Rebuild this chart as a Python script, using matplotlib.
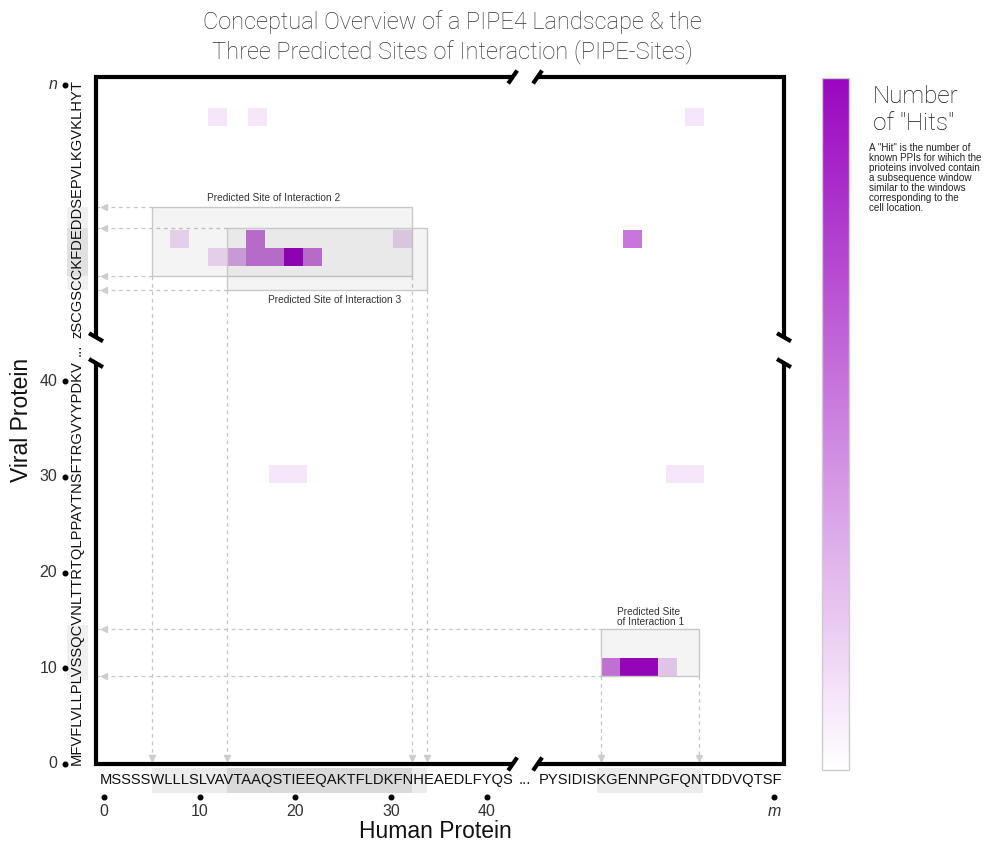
import numpy as np
import matplotlib.pyplot as plt
from matplotlib.colors import LinearSegmentedColormap, Normalize
from matplotlib.cm import ScalarMappable
from matplotlib.patches import Rectangle

plt.rcParams['font.family'] = ['Liberation Sans', 'DejaVu Sans']

W, H = 985, 843

# sequences shown along the axes
human_left = "MSSSSWLLLSLVAVTAAQSTIEEQAKTFLDKFNHEAEDLFYQS"
human_right = "PYSIDISKGENNPGFQNTDDVQTSF"
viral_bottom = "MFVFLVLLPLVSSQCVNLTTRTQLPPAYTNSFTRGVYYPDKV"
viral_top = "zSCGSCCKFDEDDSEPVLKGVKLHYT"

x_ticks = [0, 10, 20, 30, 40]
y_ticks = [0, 10, 20, 30, 40]
x_last = 70   # 'm'
y_last = 71   # 'n'

# PIPE landscape cells (lower-left corner, residue units) and their hit counts
cell_x = [10.9, 15.05, 60.7,
          6.9, 14.8, 30.2, 54.2,
          10.9, 12.85, 14.8, 16.8, 18.8, 20.8,
          17.2, 19.2, 58.7, 60.7,
          51.9, 53.9, 55.9, 57.9]
cell_y = [66.7] * 3 + [53.9] * 4 + [52.0] * 6 + [29.4] * 4 + [9.2] * 4
hits = [1, 1, 1,
        1.6, 5.5, 1.6, 5.5,
        1.6, 3.5, 5.5, 5.5, 10, 5.5,
        1, 1, 1, 1,
        5.5, 10, 10, 2]
max_hits = 10

# predicted sites of interaction
site_names = ['Predicted Site\nof Interaction 1',
              'Predicted Site of Interaction 2',
              'Predicted Site of Interaction 3']
site_x0 = [51.9, 5.0, 12.85]
site_x1 = [62.2, 32.2, 33.75]
site_y0 = [9.2, 51.0, 49.5]
site_y1 = [14.1, 58.2, 56.0]

x_break = (42.7, 45.3)
y_break = (41.9, 44.6)

cmap = LinearSegmentedColormap.from_list('hits', ['#ffffff', '#9a06c0'])
norm = Normalize(0, max_hits)

fig = plt.figure(figsize=(W / 100, H / 100), dpi=100)
ax = fig.add_axes([96 / W, (H - 764) / H, 688 / W, 687 / H])
ax.set_xlim(-0.84, 71.05)
ax.set_ylim(0, 71.8)
ax.axis('off')
x0, x1 = ax.get_xlim()
y0, y1 = ax.get_ylim()

# cells
ax.bar(cell_x, 1.9, width=2, bottom=cell_y, align='edge',
       color=cmap(norm(np.array(hits))), lw=0, zorder=2)

# site boxes, guide lines, axis highlights
guide = dict(color='#c4c4c4', lw=0.9, ls=(0, (3, 3)), zorder=1, clip_on=False)
arrow = dict(color='#cdcdcd', ms=5, zorder=4, clip_on=False, ls='none')
for i in range(len(site_names)):
    u0, u1, v0, v1 = site_x0[i], site_x1[i], site_y0[i], site_y1[i]
    ax.add_patch(Rectangle((u0, v0), u1 - u0, v1 - v0, facecolor=(0, 0, 0, 0.045),
                           edgecolor='#c8c8c8', lw=1, zorder=3))
    for v in (v0, v1):
        ax.plot([x0, u0], [v, v], **guide)
        ax.plot([0.0], [v], marker='<', **arrow)
    for u in (u0, u1):
        ax.plot([u, u], [v0, y0], **guide)
        ax.plot([u], [0.6], marker='v', **arrow)
    pad = 0.4 if i == 0 else 0.0
    ax.add_patch(Rectangle((u0 - pad, -3.0), u1 - u0 + 2 * pad, 2.6,
                           facecolor=(0, 0, 0, 0.075), lw=0, clip_on=False, zorder=0))
    ax.add_patch(Rectangle((-3.87, v0 - pad), 2.2, v1 - v0 + 2 * pad,
                           facecolor=(0, 0, 0, 0.06), lw=0, clip_on=False, zorder=0))

lab = dict(fontsize=7.3, color='#333333', zorder=6)
ax.text(site_x0[0] + 1.7, site_y1[0] + 0.2, site_names[0], ha='left', va='bottom',
        linespacing=1.0, **lab)
ax.text((site_x0[1] + site_x1[1]) / 2 - 0.9, site_y1[1] + 0.4, site_names[1],
        ha='center', va='bottom', **lab)
ax.text((site_x0[2] + site_x1[2]) / 2 + 0.8, site_y0[2] - 0.5, site_names[2],
        ha='center', va='top', **lab)

# frame with breaks
frame = [([x_break[0], x0, x0], [y1, y1, y_break[1]]),
         ([x_break[1], x1, x1], [y1, y1, y_break[1]]),
         ([x0, x0, x_break[0]], [y_break[0], y0, y0]),
         ([x1, x1, x_break[1]], [y_break[0], y0, y0])]
for fx, fy in frame:
    ax.plot(fx, fy, color='black', lw=3, solid_joinstyle='miter',
            solid_capstyle='butt', clip_on=False, zorder=5)
for bx in x_break:
    for by in (y0, y1):
        ax.plot([bx - 0.47, bx + 0.47], [by - 0.68, by + 0.68], color='black',
                lw=3, solid_capstyle='butt', clip_on=False, zorder=5)
for by in y_break:
    for bx in (x0, x1):
        ax.plot([bx - 0.73, bx + 0.73], [by + 0.42, by - 0.42], color='black',
                lw=3, solid_capstyle='butt', clip_on=False, zorder=5)

# sequences
seq = dict(fontsize=10.6, color='#111111', zorder=6, clip_on=False)
ax.text(-0.42, -1.7, human_left, ha='left', va='center', **seq)
ax.text(44.0, -1.7, '...', ha='center', va='center', **seq)
ax.text(70.85, -1.7, human_right, ha='right', va='center', **seq)
ax.text(-2.82, -0.1, viral_bottom, rotation=90, ha='center', va='bottom', **seq)
ax.text(-2.82, 43.3, '...', rotation=90, ha='center', va='center', **seq)
ax.text(-2.82, 71.5, viral_top, rotation=90, ha='center', va='top', **seq)

# ticks
tick = dict(fontsize=11.5, color='#333333', clip_on=False)
ax.plot(x_ticks + [x_last], [-3.45] * (len(x_ticks) + 1), 'o', color='black', ms=3.3, clip_on=False)
for t in x_ticks:
    ax.text(t, -5.0, str(t), ha='center', va='center', **tick)
ax.text(x_last, -5.0, 'm', ha='center', va='center', style='italic', **tick)
ax.plot([-4.08] * (len(y_ticks) + 1), y_ticks + [y_last], 'o', color='black', ms=3.3, clip_on=False)
for t in y_ticks:
    ax.text(-4.9, t, str(t), ha='right', va='center', **tick)
ax.text(-4.9, y_last, 'n', ha='right', va='center', style='italic', **tick)

fig.text(435 / W, 1 - 832 / H, 'Human Protein', ha='center', va='center', fontsize=16.5, color='#111111')
fig.text(22 / W, 1 - 420 / H, 'Viral Protein', ha='center', va='center', rotation=90,
         fontsize=16.5, color='#111111')

fig.text(452 / W, 1 - 37 / H,
         'Conceptual Overview of a PIPE4 Landscape & the\nThree Predicted Sites of Interaction (PIPE-Sites)',
         ha='center', va='center', fontsize=17, linespacing=1.25, color='#333333',
         family=['Roboto', 'DejaVu Sans'], fontweight='light')

# colour bar
cax = fig.add_axes([822 / W, (H - 770) / H, 27 / W, 692 / H])
cb = fig.colorbar(ScalarMappable(norm=norm, cmap=cmap), cax=cax)
cb.set_ticks([])
cb.outline.set_edgecolor('#cccccc')
cb.outline.set_linewidth(1)

fig.text(873 / W, 1 - 85 / H, 'Number\nof "Hits"', ha='left', va='top', fontsize=17.5,
         linespacing=1.2, color='#111111', family=['Roboto', 'DejaVu Sans'], fontweight='light')
fig.text(869 / W, 1 - 143 / H,
         'A "Hit" is the number of\nknown PPIs for wihich the\nprioteins involved contain\n'
         'a subsequence window\nsimilar to the windows\ncorresponding to the\ncell location.',
         ha='left', va='top', fontsize=7.1, linespacing=1.0, color='#222222')

fig.savefig('out.png', dpi=100)
